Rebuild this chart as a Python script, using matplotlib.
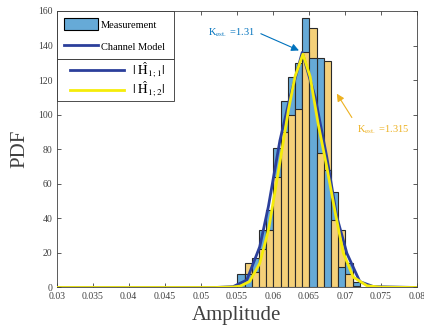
import numpy as np
import matplotlib
matplotlib.use("Agg")
import matplotlib.pyplot as plt
from matplotlib.patches import Patch
from matplotlib.lines import Line2D
from matplotlib.legend_handler import HandlerLine2D

plt.rcParams['font.family'] = ['Liberation Serif', 'DejaVu Serif']
plt.rcParams['mathtext.fontset'] = 'stix'

# histogram bins (left edges) and counts
bin_left = [0.0551, 0.0561, 0.0571, 0.0581, 0.0591, 0.0601, 0.0611, 0.0621, 0.0631,
            0.0641, 0.0651, 0.0661, 0.0671, 0.0681, 0.0691, 0.0701, 0.0711]
bin_width = 0.001
meas_11 = [8, 8, 17, 33, 45, 81, 108, 122, 130, 156, 133, 133, 68, 55, 12, 14, 3]
meas_12 = [0, 14, 9, 22, 33, 64, 90, 100, 103, 136, 150, 78, 131, 39, 33, 8, 1]

# channel model curves
model_11_x = [0.030, 0.052, 0.0545, 0.0564, 0.0582, 0.0594, 0.0610, 0.0624, 0.0641,
              0.0659, 0.0675, 0.0689, 0.0703, 0.0721, 0.0740, 0.080]
model_11_y = [0, 0, 0.5, 4.3, 23.6, 46.8, 85, 110, 136, 110, 75.7, 41, 19.8, 3.4, 0.5, 0]
model_12_x = [0.030, 0.052, 0.0545, 0.0555, 0.0568, 0.0582, 0.0594, 0.0603, 0.0613, 0.0622,
              0.0631, 0.0642, 0.0652, 0.0663, 0.0675, 0.0687, 0.0698, 0.0712, 0.0731, 0.075,
              0.080]
model_12_y = [0, 0, 0.3, 0.8, 3.5, 14, 33, 55, 80, 103, 122, 135, 122, 95, 70, 43, 20, 6, 1,
              0.2, 0]

c_blue_bar = '#66AAD7'
c_orange_bar = '#F4D079'
c_line1 = '#2B3F9B'
c_line2 = '#F5EC0A'
c_txt1 = '#0072BD'
c_txt2 = '#EDB120'
c_axis = '#404040'

fig = plt.figure(figsize=(4.24, 3.26), dpi=100)
ax = fig.add_axes([0.1337, 0.1181, 0.8491, 0.8482])

# in every bin the shorter bar sits in front
for i in range(len(bin_left)):
    b, o = meas_11[i], meas_12[i]
    zb, zo = (3, 2) if b < o else (2, 3)
    ax.bar(bin_left[i], b, width=bin_width, align='edge', color=c_blue_bar,
           edgecolor='#2a2a2a', linewidth=0.8, zorder=zb)
    ax.bar(bin_left[i], o, width=bin_width, align='edge', color=c_orange_bar,
           edgecolor='#2a2a2a', linewidth=0.8, zorder=zo)

ax.plot(model_11_x, model_11_y, color=c_line1, lw=2, zorder=4)
ax.plot(model_12_x, model_12_y, color=c_line2, lw=2, zorder=5)

ax.set_xlim(0.03, 0.08)
ax.set_ylim(0, 160)
ax.set_xticks(np.arange(0.03, 0.0801, 0.005))
ax.set_xticklabels(['0.03', '0.035', '0.04', '0.045', '0.05', '0.055', '0.06',
                    '0.065', '0.07', '0.075', '0.08'])
ax.set_yticks(np.arange(0, 161, 20))
ax.tick_params(direction='in', length=3, width=0.6, top=True, right=True,
               labelsize=7, colors=c_axis, pad=3)
for s in ax.spines.values():
    s.set_color(c_axis)
    s.set_linewidth(0.6)

ax.set_xlabel('Amplitude', fontsize=15, color=c_axis, labelpad=4)
ax.set_ylabel('PDF', fontsize=15, color=c_axis, labelpad=6)

# annotations
ax.text(0.0575, 147.5, r'K$_{\mathrm{est.}}$ =1.31', color=c_txt1, fontsize=7.5,
        ha='right', va='center')
ax.annotate('', xy=(0.0640, 136.5), xytext=(0.0580, 147.5),
            arrowprops=dict(arrowstyle='-|>', color=c_txt1, lw=0.8,
                            mutation_scale=11), zorder=6)
ax.text(0.0717, 91.5, r'K$_{\mathrm{est.}}$ =1.315', color=c_txt2, fontsize=7.5,
        ha='left', va='center')
ax.annotate('', xy=(0.0687, 113.5), xytext=(0.0712, 97),
            arrowprops=dict(arrowstyle='-|>', color=c_txt2, lw=0.8,
                            mutation_scale=11), zorder=6)

# two stacked legends
h1 = [Patch(facecolor=c_blue_bar, edgecolor='black', linewidth=0.8),
      Line2D([], [], color=c_line1, lw=2)]
leg1 = ax.legend(h1, ['Measurement', 'Channel Model'], loc='upper left',
                 bbox_to_anchor=(0, 0.826, 0.326, 0.174), mode='expand',
                 borderaxespad=0, fancybox=False, edgecolor='#303030',
                 fontsize=7.5, handlelength=3.27, handleheight=1.35,
                 handletextpad=0.3, labelspacing=1.0, borderpad=0.7,
                 framealpha=1)
leg1.get_frame().set_linewidth(0.6)
ax.add_artist(leg1)

h2 = [Line2D([], [], color=c_line1, lw=2), Line2D([], [], color=c_line2, lw=2)]
leg2 = ax.legend(h2, [r'$|\ \hat{\mathrm{H}}_{1;1}|$', r'$|\ \hat{\mathrm{H}}_{1;2}|$'],
                 loc='upper left', bbox_to_anchor=(0, 0.682, 0.326, 0.144),
                 mode='expand', borderaxespad=0, fancybox=False,
                 edgecolor='#303030', fontsize=9.5, handlelength=5.0,
                 handletextpad=0.6, labelspacing=0.0, borderpad=0.1,
                 framealpha=1, handler_map={Line2D: HandlerLine2D(xpad=0.9)})
leg2.get_frame().set_linewidth(0.6)
leg2.set_zorder(10)

fig.savefig('out.png', dpi=100)
